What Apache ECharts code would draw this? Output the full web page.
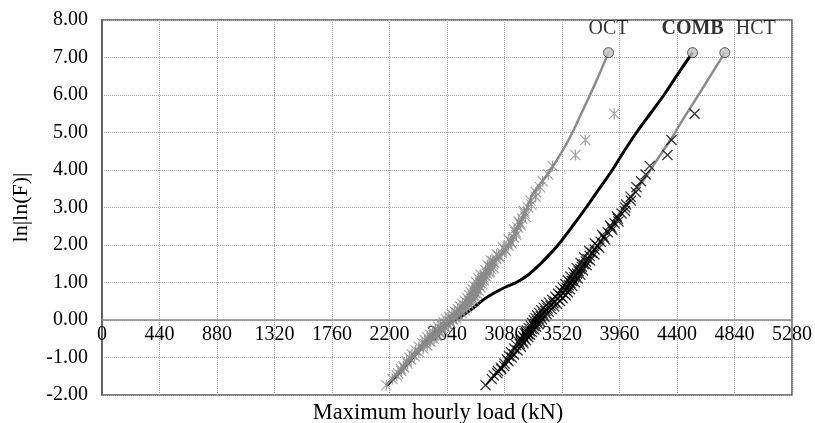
<!DOCTYPE html>
<html>
<head>
<meta charset="utf-8">
<script src="https://cdn.jsdelivr.net/npm/echarts@6/dist/echarts.min.js"></script>
<style>html,body{margin:0;padding:0;background:#fff}#c{width:815px;height:423px}</style>
</head>
<body>
<div id="c"></div>
<script>
// ---- data ----
var xTicks = [0,440,880,1320,1760,2200,2640,3080,3520,3960,4400,4840,5280];
var yTicks = [-2,-1,0,1,2,3,4,5,6,7,8];

// reduced variate (plotting positions) of the ranked samples
var octY = [-1.74,-1.57,-1.48,-1.42,-1.36,-1.31,-1.27,-1.23,
  -1.16,-1.10,-1.05,-1.00,-0.96,-0.92,
  -0.86,-0.81,-0.76,-0.71,-0.67,-0.62,-0.58,-0.54,-0.50,-0.46,
  -0.43,-0.39,-0.35,-0.32,-0.28,-0.25,-0.21,-0.18,-0.15,-0.11,
  -0.08,-0.05,-0.01,
  0.02,0.05,0.09,0.12,0.16,0.19,0.22,0.26,0.29,0.33,
  0.36,0.40,0.43,0.47,0.51,0.54,0.58,0.62,0.66,0.70,
  0.74,0.78,0.82,0.87,0.91,0.96,1.01,1.06,1.11,1.16,
  1.21,1.27,1.33,1.39,1.46,1.52,1.59,1.67,1.75,1.84,
  1.93,2.04,2.15,2.27,
  2.41,2.52,2.63,2.76,2.91,3.08,
  3.18,3.29,3.41,3.54,3.70,3.88,4.11,4.40,4.80,5.50];
var octLoad = [2175,2222,2255,2266,2290,2288,2312,2306,
  2338,2332,2365,2352,2392,2372,
  2425,2400,2458,2425,2488,2450,2515,2470,2540,2490,
  2562,2510,2585,2530,2608,2552,2628,2572,2650,2592,
  2668,2612,2690,
  2632,2710,2655,2730,2678,2752,2700,2775,2722,2792,
  2740,2810,2758,2828,2778,2845,2795,2858,2810,2870,
  2822,2882,2835,2895,2848,2908,2862,2922,2880,2940,
  2898,2962,2935,2995,2950,3002,2975,3045,3020,3092,
  3070,3135,3112,3170,
  3155,3205,3188,3240,3228,3285,
  3280,3318,3320,3352,3372,3415,3448,3622,3698,3920];

// further ranks in the dense middle of both samples
var midY = [-0.64,-0.56,-0.48,-0.41,-0.37,-0.30,-0.23,-0.16,-0.10,-0.03,
  0.04,0.10,0.17,0.24,0.31,0.38,0.45,0.49,0.56,0.64,
  0.72,0.80,0.85,0.93,0.99,1.04,1.09,1.14,1.19,1.24,
  1.30,1.36,1.42,1.49,1.56,1.63,1.71,1.79,1.88,1.98,
  2.09,2.21,2.34,2.47,2.58,2.70,2.84,3.00];
var octMidLoad = [2472,2505,2522,2540,2560,2575,2595,2620,2636,2660,
  2680,2695,2720,2740,2765,2780,2800,2812,2826,2838,
  2852,2865,2868,2885,2892,2905,2910,2918,2925,2945,
  2968,2978,2965,2990,2990,3018,3035,3060,3085,3110,
  3128,3150,3165,3180,3198,3215,3235,3260];
var hctMidLoad = [3198,3218,3232,3248,3260,3272,3288,3305,3315,3330,
  3342,3358,3375,3392,3410,3432,3455,3466,3488,3510,
  3528,3545,3555,3572,3585,3595,3605,3615,3625,3636,
  3648,3660,3672,3686,3702,3716,3732,3750,3770,3790,
  3816,3840,3870,3898,3922,3948,3976,4004];

var hctY = [-1.74,-1.57,-1.48,-1.42,-1.36,-1.31,-1.27,-1.23,
  -1.16,-1.10,-1.05,-1.00,-0.96,-0.92,
  -0.86,-0.81,-0.76,-0.71,-0.67,-0.62,-0.58,-0.54,-0.50,-0.46,
  -0.43,-0.39,-0.35,-0.32,-0.28,-0.25,-0.21,-0.18,-0.15,-0.11,
  -0.08,-0.05,-0.01,
  0.02,0.05,0.09,0.12,0.16,0.19,0.22,0.26,0.29,0.33,
  0.36,0.40,0.43,0.47,0.51,0.54,0.58,0.62,0.66,0.70,
  0.74,0.78,0.82,0.87,0.91,0.96,1.01,1.06,1.11,1.16,
  1.21,1.27,1.33,1.39,1.46,1.52,1.59,1.67,1.75,1.84,
  1.93,2.04,2.15,2.27,
  2.41,2.52,2.63,2.76,2.91,3.08,
  3.18,3.29,3.41,3.54,3.70,3.88,4.11,4.40,4.80,5.50];
var hctLoad = [2935,2982,2998,3025,3030,3055,3052,3078,
  3080,3110,3098,3135,3115,3152,
  3130,3180,3155,3205,3170,3225,3190,3245,3205,3262,
  3222,3275,3235,3290,3250,3308,3265,3322,3280,3340,
  3292,3355,3305,
  3368,3318,3385,3330,3402,3345,3418,3362,3440,3380,
  3460,3400,3482,3420,3505,3445,3525,3470,3548,3490,
  3565,3508,3580,3525,3598,3545,3618,3565,3640,3585,
  3660,3605,3680,3632,3708,3662,3735,3690,3768,3728,
  3805,3772,3850,3828,
  3905,3888,3952,3940,4002,4010,
  4048,4045,4085,4090,4125,4160,4192,4327,4358,4535];

// fitted curves
var octFitLoad = [2175,2400,2660,2850,2960,3110,3240,3300,3380,3449,3530,3600,3680,3780,3876];
var octFitY    = [-1.74,-0.88,0.00,0.80,1.40,2.00,2.90,3.38,3.75,4.09,4.55,5.00,5.60,6.35,7.13];
var combLoad = [2180,2330,2480,2620,2700,2760,2840,2914,3000,3090,3170,3260,3350,3420,3490,3600,3705,3805,3905,3995,4090,4195,4300,4405,4519];
var combY    = [-1.74,-1.20,-0.60,-0.15,0.00,0.12,0.32,0.53,0.72,0.88,1.00,1.20,1.48,1.73,2.00,2.50,3.00,3.50,4.00,4.50,5.00,5.50,6.00,6.55,7.13];
var hctFitLoad = [2935,3120,3330,3585,3795,3990,4162,4264,4350,4442,4600,4766];
var hctFitY    = [-1.74,-1.00,0.00,1.00,2.00,3.00,3.82,4.36,4.80,5.33,6.20,7.13];

var curveNames = ['OCT','COMB','HCT'];

function pairs(xs, ys){ var o=[]; for(var i=0;i<xs.length;i++) o.push([xs[i], ys[i]]); return o; }

var FONT = 'Liberation Serif';
var crossPath = 'path://M0,8 L8,0 L100,92 L92,100 Z M92,0 L100,8 L8,100 L0,92 Z';
var starPath = 'path://M0,7 L7,0 L100,93 L93,100 Z M93,0 L100,7 L7,100 L0,93 Z M44,0 L56,0 L56,100 L44,100 Z';

var ends = [
  {value:[octFitLoad[octFitLoad.length-1], octFitY[octFitY.length-1]], label:{formatter:curveNames[0]}},
  {value:[combLoad[combLoad.length-1], combY[combY.length-1]], label:{formatter:curveNames[1], fontWeight:'bold'}},
  {value:[hctFitLoad[hctFitLoad.length-1], hctFitY[hctFitY.length-1]], label:{formatter:curveNames[2], offset:[31,0]}}
];

var chart = echarts.init(document.getElementById('c'), null, {renderer:'canvas'});
chart.setOption({
  animation:false,
  backgroundColor:'#fff',
  textStyle:{fontFamily:FONT},
  title:{text:'Maximum hourly load (kN)', left:433, top:397, textAlign:'center',
    textStyle:{fontFamily:FONT, fontSize:22.5, fontWeight:'normal', color:'#000'}},
  grid:{left:102, right:22, top:20, bottom:28, show:true, borderColor:'#555', borderWidth:1.5, containLabel:false},
  xAxis:{type:'value', min:xTicks[0], max:xTicks[xTicks.length-1], interval:440,
    position:'bottom', offset:-75,
    axisLine:{onZero:false, lineStyle:{color:'#888', width:1.5}},
    axisTick:{show:false},
    axisLabel:{color:'#000', fontFamily:FONT, fontSize:20, margin:5, showMinLabel:true, showMaxLabel:true,
      formatter:function(v){return String(v);}},
    splitLine:{show:true, lineStyle:{color:'#a6a6a6', width:1, type:[1,1]}}},
  yAxis:{type:'value', min:yTicks[0], max:yTicks[yTicks.length-1], interval:1,
    name:'ln|ln(F)|', nameLocation:'middle', nameGap:70, nameRotate:90,
    nameTextStyle:{fontFamily:FONT, fontSize:22, color:'#000'},
    axisLine:{show:true, onZero:false, lineStyle:{color:'#555', width:1.5}},
    axisTick:{show:false},
    axisLabel:{color:'#000', fontFamily:FONT, fontSize:20, margin:14, formatter:function(v){return v.toFixed(2);}},
    splitLine:{show:true, lineStyle:{color:'#a6a6a6', width:1, type:[1,1]}}},
  series:[
    {type:'line', name:'COMB', data:pairs(combLoad, combY), smooth:0.3, symbol:'none', z:2,
      lineStyle:{color:'#000', width:3}},
    {type:'line', name:'HCT fit', data:pairs(hctFitLoad, hctFitY), smooth:0.3, symbol:'none', z:2,
      lineStyle:{color:'#8c8c8c', width:2.5}},
    {type:'line', name:'OCT fit', data:pairs(octFitLoad, octFitY), smooth:0.3, symbol:'none', z:2,
      lineStyle:{color:'#8c8c8c', width:2.5}},
    {type:'scatter', name:'OCT', data:pairs(octLoad, octY).concat(pairs(octMidLoad, midY)), symbol:starPath, symbolSize:11, z:3,
      itemStyle:{color:'#8a8a8a'}},
    {type:'scatter', name:'HCT', data:pairs(hctLoad, hctY).concat(pairs(hctMidLoad, midY)), symbol:crossPath, symbolSize:11, z:4,
      itemStyle:{color:'#000'}},
    {type:'scatter', name:'ends', data:ends, symbol:'circle', symbolSize:10, z:5,
      itemStyle:{color:'#c0c0c0', borderColor:'#333', borderWidth:1},
      label:{show:true, position:'top', distance:8, color:'#000', fontFamily:FONT, fontSize:20}}
  ]
});
</script>
</body>
</html>
